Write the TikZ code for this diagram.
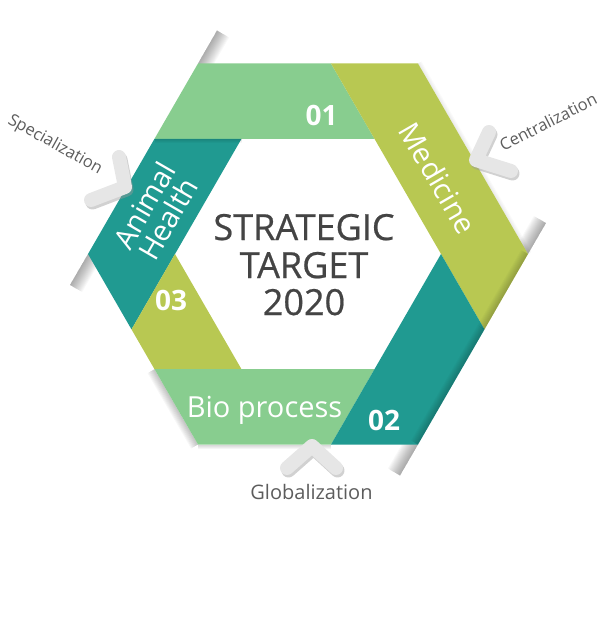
\documentclass[tikz,border=0pt]{standalone}
\usepackage{fontspec}
\setmainfont{Open Sans}
\newfontfamily\heavyfont[FakeBold=0.6]{Open Sans}
\usetikzlibrary{calc}

\definecolor{leaf}{HTML}{88CD8F}
\definecolor{moss}{HTML}{B8C852}
\definecolor{sea}{HTML}{209A91}
\definecolor{ink}{HTML}{444444}
\definecolor{chevgray}{HTML}{E6E6E6}

\begin{document}
\begin{tikzpicture}[x=1pt,y=-1pt,
    num/.style={text=white,font=\bfseries\fontsize{28}{28}\selectfont,anchor=base},
    lbl/.style={text=white,font=\fontsize{29}{27.5}\selectfont,inner sep=0pt},
    title/.style={text=ink,font=\heavyfont\fontsize{36}{36}\selectfont,anchor=base},
    side/.style={text=black!64,font=\fontsize{16.5}{16.5}\selectfont,inner sep=0pt},
    chev/.style={line width=14pt,line cap=round,line join=round,draw=chevgray},
    chevshadow/.style={line width=14pt,line cap=round,line join=round,draw=black!40,opacity=.45}]

\useasboundingbox (0,0) rectangle (600,626);

% outer and inner hexagon
\coordinate (TL) at (198,63.5);
\coordinate (TR) at (418,63.5);
\coordinate (R)  at (528,254);
\coordinate (BR) at (418,444.5);
\coordinate (BL) at (198,444.5);
\coordinate (L)  at (88,254);
\coordinate (tl) at (241.5,138.8);
\coordinate (tr) at (374.5,138.8);
\coordinate (r)  at (441,254);
\coordinate (br) at (374.5,369.2);
\coordinate (bl) at (241.5,369.2);
\coordinate (l)  at (175,254);
% where the bands are cut
\coordinate (a1) at (331,63.5);
\coordinate (a2) at (154.5,138.8);
\coordinate (b1) at (131.5,329.4);
\coordinate (b2) at (154.5,369.2);
\coordinate (c1) at (331,444.5);
\coordinate (c2) at (484.5,329.4);
% ends of the fold shadows
\coordinate (s1) at (217,30.5);
\coordinate (s2) at (70,285);
\coordinate (s3) at (546,223);
\coordinate (s4) at (400,475.5);

% fold shadows
\foreach \w in {1,...,14}{
    \fill[black,opacity=.028] (TL) -- (s1) -- ++(\w*0.866,\w*0.5) -- ($(TL)+(\w*0.866,\w*0.5)$) -- cycle;
    \fill[black,opacity=.028] (L) -- (s2) -- ++(\w*0.866,\w*0.5) -- ($(L)+(\w*0.866,\w*0.5)$) -- cycle;
    \fill[black,opacity=.028] (R) -- (s3) -- ++(-\w*0.866,-\w*0.5) -- ($(R)+(-\w*0.866,-\w*0.5)$) -- cycle;
    \fill[black,opacity=.028] (BR) -- (s4) -- ++(-\w*0.866,-\w*0.5) -- ($(BR)+(-\w*0.866,-\w*0.5)$) -- cycle;
}
\foreach \w in {1,...,8}{
    \fill[black,opacity=.03] (b2) -- (BL) -- ++(-\w*0.866,\w*0.5) -- ($(b2)+(-\w*0.866,\w*0.5)$) -- cycle;
}
\foreach \w in {1,...,4}{
    \fill[black,opacity=.04] (BL) -- (c1) -- ++(0,\w) -- ($(BL)+(0,\w)$) -- cycle;
    \fill[black,opacity=.02] (TR) -- (R) -- ++(\w*0.866,-\w*0.5) -- ($(TR)+(\w*0.866,-\w*0.5)$) -- cycle;
}

% the six pieces of the ring
\fill[leaf] (TL) -- (a1) -- (tr) -- (a2) -- cycle;
\fill[moss] (a1) -- (TR) -- (R) -- (c2) -- (r) -- cycle;
\fill[sea]  (a2) -- (tl) -- (b1) -- (L) -- cycle;
\fill[moss] (l) -- (bl) -- (b2) -- (b1) -- cycle;
\fill[leaf] (b2) -- (br) -- (c1) -- (BL) -- cycle;
\fill[sea]  (r) -- (c2) -- (BR) -- (c1) -- cycle;

% darker edges where the bands fold
\foreach \w in {1,...,8}{
    \fill[black,opacity=.025] (R) -- (c2) -- ++(-\w*0.866,-\w*0.5) -- ($(R)+(-\w*0.866,-\w*0.5)$) -- cycle;
    \fill[black,opacity=.025] (c2) -- (BR) -- ++(-\w*0.866,-\w*0.5) -- ($(c2)+(-\w*0.866,-\w*0.5)$) -- cycle;
}
\foreach \w in {1,...,4}{
    \fill[black,opacity=.03] (a2) -- (tl) -- ++(0,\w) -- ($(a2)+(0,\w)$) -- cycle;
}

% chevrons
\draw[chevshadow,shift={(1.5,2.5)}] (119,157) -- (125,187) -- (91,200);
\draw[chev] (119,157) -- (125,187) -- (91,200);
\draw[chevshadow,shift={(1.5,2.5)}] (489,132) -- (476,160) -- (511,171);
\draw[chev] (489,132) -- (476,160) -- (511,171);
\draw[chevshadow,shift={(1.5,2.5)}] (287,468) -- (312,446) -- (336,468);
\draw[chev] (287,468) -- (312,446) -- (336,468);

% texts
\node[num] (n01) at (321.5,125) {01};
\node[num] (n02) at (384,430) {02};
\node[num] (n03) at (171,310) {03};

\node[lbl,rotate=-60] (medicine) at (438,178) {Medicine};
\node[lbl,rotate=60,align=center] (animal) at (156,212) {Animal\\Health};
\node[lbl,anchor=base] (bio) at (264.5,417) {Bio process};

\node[title] (goal1) at (304,240) {STRATEGIC};
\node[title] (goal2) at (304,278) {TARGET};
\node[title] (goal3) at (304,315) {2020};

\node[side,rotate=-29] (spec) at (55,145) {Specialization};
\node[side,rotate=27] (cent) at (548,122) {Centralization};
\node[side,font=\fontsize{20}{20}\selectfont,anchor=base] (glob) at (311.5,499) {Globalization};

\end{tikzpicture}
\end{document}
